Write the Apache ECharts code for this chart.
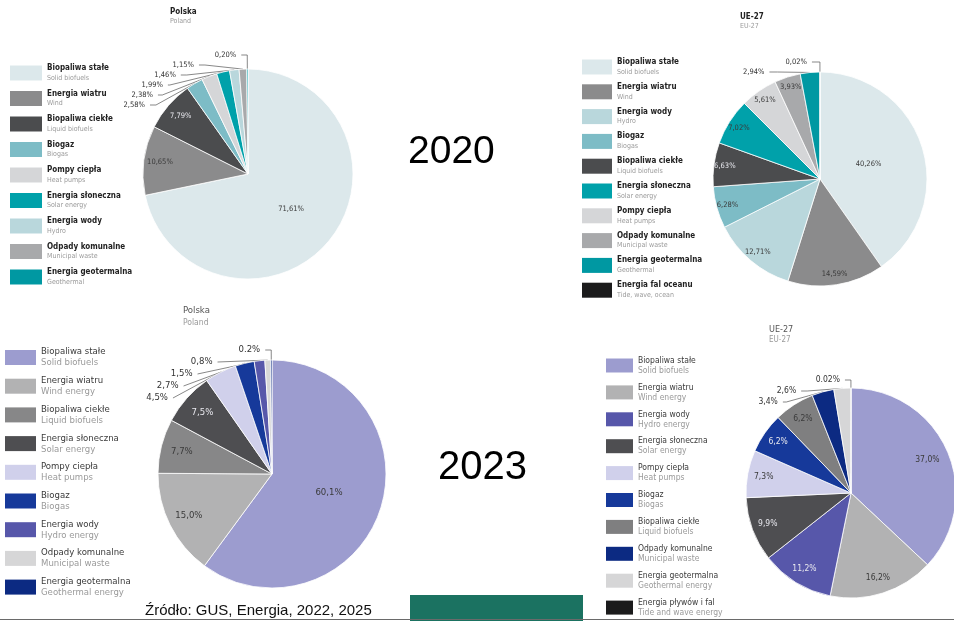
<!DOCTYPE html>
<html><head><meta charset="utf-8">
<script src="https://cdn.jsdelivr.net/npm/echarts@6/dist/echarts.min.js"></script>
<style>html,body{margin:0;padding:0;background:#fff;}#c{width:954px;height:621px;}</style>
</head><body><div id="c"></div>
<script>
const NARROW = '"Liberation Sans Narrow","DejaVu Sans Condensed","Roboto Condensed",sans-serif';

// ---- 2020, Polska ----
const pl20Names = ['Biopaliwa stałe','Energia wiatru','Biopaliwa ciekłe','Biogaz','Pompy ciepła','Energia słoneczna','Energia wody','Odpady komunalne','Energia geotermalna'];
const pl20English = ['Solid biofuels','Wind','Liquid biofuels','Biogas','Heat pumps','Solar energy','Hydro','Municipal waste','Geothermal'];
const pl20Values = [71.61, 10.65, 7.79, 2.58, 2.38, 1.99, 1.46, 1.15, 0.20];
const pl20Labels = ['71,61%','10,65%','7,79%','2,58%','2,38%','1,99%','1,46%','1,15%','0,20%'];

// ---- 2020, UE-27 ----
const eu20Names = ['Biopaliwa stałe','Energia wiatru','Energia wody','Biogaz','Biopaliwa ciekłe','Energia słoneczna','Pompy ciepła','Odpady komunalne','Energia geotermalna','Energia fal oceanu'];
const eu20English = ['Solid biofuels','Wind','Hydro','Biogas','Liquid biofuels','Solar energy','Heat pumps','Municipal waste','Geothermal','Tide, wave, ocean'];
const eu20Values = [40.26, 14.59, 12.71, 6.28, 6.63, 7.02, 5.61, 3.93, 2.94, 0.02];
const eu20Labels = ['40,26%','14,59%','12,71%','6,28%','6,63%','7,02%','5,61%','3,93%','2,94%','0,02%'];

// ---- 2023, Polska ----
const pl23Names = ['Biopaliwa stałe','Energia wiatru','Biopaliwa ciekłe','Energia słoneczna','Pompy ciepła','Biogaz','Energia wody','Odpady komunalne','Energia geotermalna'];
const pl23English = ['Solid biofuels','Wind energy','Liquid biofuels','Solar energy','Heat pumps','Biogas','Hydro energy','Municipal waste','Geothermal energy'];
const pl23Values = [60.1, 15.0, 7.7, 7.5, 4.5, 2.7, 1.5, 0.8, 0.2];
const pl23Labels = ['60,1%','15,0%','7,7%','7,5%','4,5%','2,7%','1,5%','0,8%','0.2%'];

// ---- 2023, UE-27 ----
const eu23Names = ['Biopaliwa stałe','Energia wiatru','Energia wody','Energia słoneczna','Pompy ciepła','Biogaz','Biopaliwa ciekłe','Odpady komunalne','Energia geotermalna','Energia pływów i fal'];
const eu23English = ['Solid biofuels','Wind energy','Hydro energy','Solar energy','Heat pumps','Biogas','Liquid biofuels','Municipal waste','Geothermal energy','Tide and wave energy'];
const eu23Values = [37.0, 16.2, 11.2, 9.9, 7.3, 6.2, 6.2, 3.4, 2.6, 0.02];
const eu23Labels = ['37,0%','16,2%','11,2%','9,9%','7,3%','6,2%','6,2%','3,4%','2,6%','0.02%'];

// ---- colours ----
const pl20Colors = ['#dce8eb','#8b8b8c','#4b4c4e','#7dbcc6','#d5d6d8','#00a1aa','#b9d7dc','#a8a9ab','#0098a2'];
const eu20Colors = ['#dce8eb','#8b8b8c','#b9d7dc','#7dbcc6','#4b4c4e','#00a1aa','#d5d6d8','#a8a9ab','#0098a2','#1b1b1c'];
const pl23Colors = ['#9c9ccf','#b2b2b3','#878788','#4e4e51','#d0d0eb','#16399a','#5757aa','#d6d6d7','#0c2a82'];
const eu23Colors = ['#9c9ccf','#b2b2b3','#5757aa','#4e4e51','#d0d0eb','#16399a','#7f7f80','#0c2a82','#d6d6d7','#1b1b1c'];

function lum(hex){
  const r=parseInt(hex.substr(1,2),16),g=parseInt(hex.substr(3,2),16),b=parseInt(hex.substr(5,2),16);
  return (0.299*r+0.587*g+0.114*b)/255;
}

function makePie(names, values, labels, colors, o){
  return {
    type:'pie', center:o.center, radius:o.r, startAngle:90, clockwise:true,
    avoidLabelOverlap:true, animation:false, silent:true,
    itemStyle:{borderColor:'#fff', borderWidth:0.8},
    label:{fontFamily:NARROW, fontSize:o.fs, color:'#333'},
    labelLine:{length:o.l1, length2:o.l2, lineStyle:{color:'#555', width:0.7}},
    labelLayout: function(p){
      const i = p.dataIndex;
      if (values[i] < o.insideMin) return {};
      const k = i === 0 ? o.kMain : o.kOther;
      const lx = p.labelRect.x + p.labelRect.width/2, ly = p.labelRect.y + p.labelRect.height/2;
      return {dx:(lx - o.center[0])*(k-1), dy:(ly - o.center[1])*(k-1)};
    },
    data: names.map((n,i)=>{
      const inside = values[i] >= o.insideMin;
      return {
        name:n, value:values[i],
        itemStyle:{color:colors[i]},
        label:{
          position: inside ? 'inside' : 'outside',
          formatter: labels[i],
          color: inside ? (lum(colors[i]) < 0.42 ? '#e8e8ee' : '#3a3a3a') : '#333'
        },
        labelLine:{show:!inside}
      };
    })
  };
}

function makeLegend(names, english, colors, o){
  return {
    orient:'vertical', left:o.left, top:o.top, padding:0, itemGap:o.gap,
    itemWidth:o.w, itemHeight:o.h, icon:'rect', selectedMode:false,
    data: names.map((n,i)=>({name:n, itemStyle:{color:colors[i], borderWidth:0}})),
    formatter: n => '{a|'+n+'}\n{b|'+english[names.indexOf(n)]+'}',
    textStyle:{fontFamily:NARROW, rich:{
      a:{fontFamily:NARROW, fontSize:o.fs, fontWeight:o.bold?'bold':'normal', color:o.c1, lineHeight:o.lh},
      b:{fontFamily:NARROW, fontSize:o.fs2, color:'#9a9a9a', lineHeight:o.lh}
    }}
  };
}

function makeTitle(t, s, left, top, bold, fs, c1){
  return {text:t, subtext:s, left:left, top:top, padding:0, itemGap:2,
    textStyle:{fontFamily:NARROW, fontSize:fs, fontWeight:bold?'bold':'normal', color:c1},
    subtextStyle:{fontFamily:NARROW, fontSize:fs-1, color:'#9a9a9a'}};
}

const chart = echarts.init(document.getElementById('c'), null, {renderer:'canvas'});
chart.setOption({
  backgroundColor:'#ffffff',
  animation:false,
  title:[
    makeTitle('Polska','Poland',170,8,true,8,'#222'),
    makeTitle('UE-27','EU-27',740,13,true,8,'#222'),
    makeTitle('Polska','Poland',183,306,false,9.5,'#555'),
    makeTitle('UE-27','EU-27',769,325,false,9,'#555')
  ],
  legend:[
    makeLegend(pl20Names, pl20English, pl20Colors, {left:10, top:64, gap:8, w:32, h:15, fs:8, fs2:7, lh:10, bold:true, c1:'#222'}),
    makeLegend(eu20Names, eu20English, eu20Colors, {left:582, top:58, gap:7.3, w:30, h:15, fs:8, fs2:7, lh:10, bold:true, c1:'#222'}),
    makeLegend(pl23Names, pl23English, pl23Colors, {left:5, top:347, gap:7.7, w:31, h:15, fs:9.5, fs2:9.5, lh:11, bold:false, c1:'#3a3a3a'}),
    makeLegend(eu23Names, eu23English, eu23Colors, {left:606, top:356, gap:7.9, w:27, h:14, fs:8.5, fs2:8.5, lh:10, bold:false, c1:'#3a3a3a'})
  ],
  series:[
    makePie(pl20Names, pl20Values, pl20Labels, pl20Colors, {center:[248,174], r:105, fs:7.5, insideMin:7, l1:14, l2:6, kMain:1.0, kOther:1.6}),
    makePie(eu20Names, eu20Values, eu20Labels, eu20Colors, {center:[820,179], r:107, fs:7.5, insideMin:3.5, l1:10, l2:8, kMain:0.9, kOther:1.7}),
    makePie(pl23Names, pl23Values, pl23Labels, pl23Colors, {center:[272,474], r:114, fs:9.5, insideMin:7.5, l1:10, l2:6, kMain:1.0, kOther:1.55}),
    makePie(eu23Names, eu23Values, eu23Labels, eu23Colors, {center:[851,493], r:105, fs:8.5, insideMin:6, l1:8, l2:6, kMain:1.5, kOther:1.6})
  ],
  graphic:[
    {type:'text', left:408, top:133, style:{text:'2020', font:'39px "Liberation Sans", Arial, sans-serif', fill:'#000'}},
    {type:'text', left:438, top:448, style:{text:'2023', font:'40px "Liberation Sans", Arial, sans-serif', fill:'#000'}},
    {type:'text', left:145, top:603, style:{text:'Źródło: GUS, Energia, 2022, 2025', font:'15px "Liberation Sans", Arial, sans-serif', fill:'#111'}},
    {type:'rect', shape:{x:410, y:595, width:173, height:26}, style:{fill:'#1b7261'}},
    {type:'line', shape:{x1:0, y1:619.5, x2:954, y2:619.5}, style:{stroke:'#6a6a6a', lineWidth:1.2}}
  ]
});
</script></body></html>
